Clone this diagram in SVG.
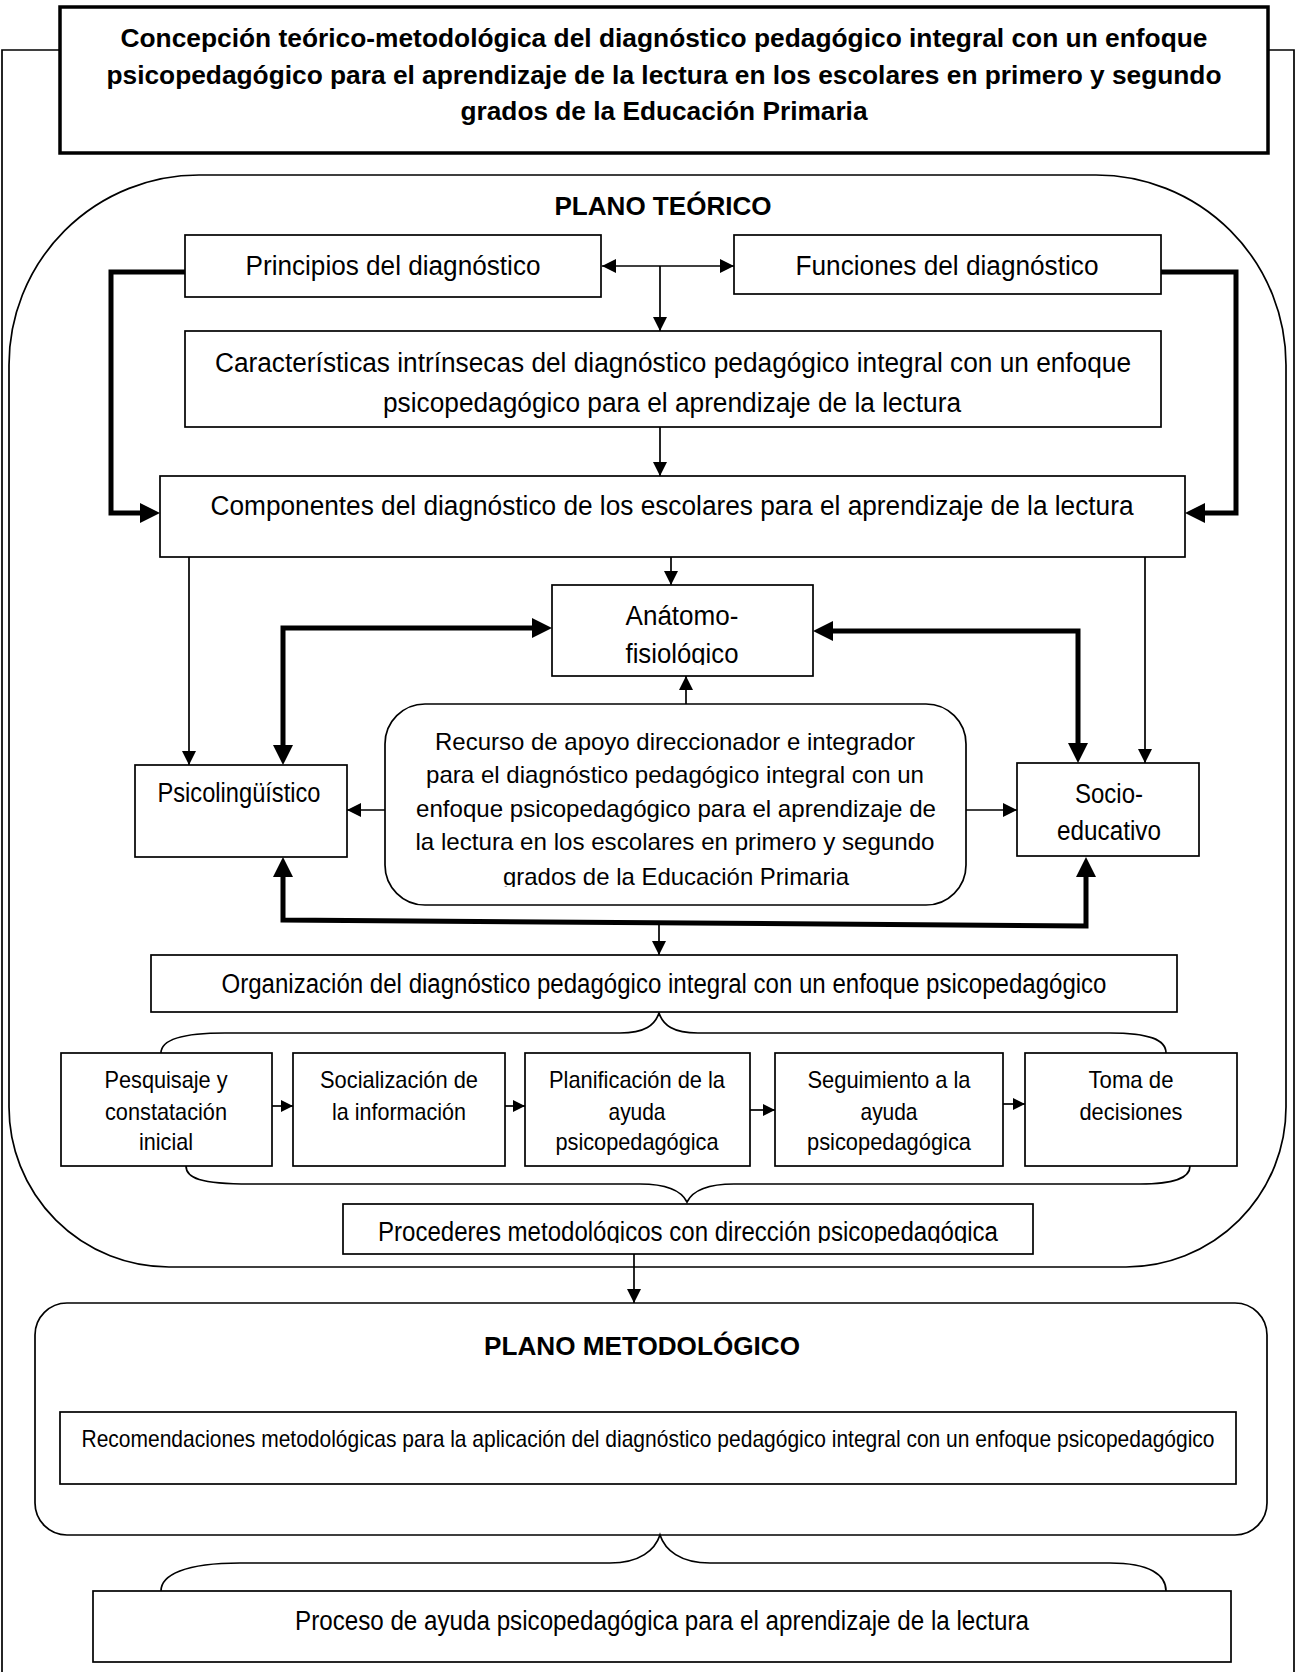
<svg xmlns="http://www.w3.org/2000/svg" width="1299" height="1672" viewBox="0 0 1299 1672">
<style>
text{font-family:"Liberation Sans Narrow","Arial Narrow","Liberation Sans",Arial,sans-serif;fill:#000;text-anchor:middle}
.t{font-size:27px}
.s{font-size:24px}
.b{font-size:26px;font-weight:bold}
.box{fill:#fff;stroke:#000;stroke-width:1.7}
.thin{fill:none;stroke:#000;stroke-width:1.7}
.thick{fill:none;stroke:#000;stroke-width:5}
.brace{fill:none;stroke:#000;stroke-width:1.7}
</style>
<defs>
<marker id="a" markerUnits="userSpaceOnUse" viewBox="0 0 14 14" markerWidth="14" markerHeight="14" refX="14" refY="7" orient="auto-start-reverse"><path d="M0,0 L14,7 L0,14 z" fill="#000"/></marker>
<marker id="as" markerUnits="userSpaceOnUse" viewBox="0 0 12 12" markerWidth="12" markerHeight="12" refX="12" refY="6" orient="auto-start-reverse"><path d="M0,0 L12,6 L0,12 z" fill="#000"/></marker>
<marker id="ab" markerUnits="userSpaceOnUse" viewBox="0 0 20 20" markerWidth="20" markerHeight="20" refX="12" refY="10" orient="auto-start-reverse"><path d="M0,0 L20,10 L0,20 z" fill="#000"/></marker>
<clipPath id="clipAnat"><rect x="552" y="585" width="261" height="80"/></clipPath>
<clipPath id="clipRec"><rect x="385" y="704" width="581" height="183"/></clipPath>
<clipPath id="clipProc"><rect x="343" y="1204" width="690" height="39"/></clipPath>
</defs>
<rect width="1299" height="1672" fill="#fff"/>

<g id="frame">
<path class="thin" d="M2,1672 V50 H60 M1268,50 H1294 V1672"/>
</g>

<g id="plano-teorico">
<path class="thin" d="M199,175 H1096 A190,190 0 0 1 1286,365 V1107 A160,160 0 0 1 1126,1267 H169 A160,160 0 0 1 9,1107 V365 A190,190 0 0 1 199,175 Z"/>
<text class="b" x="663" y="215" textLength="217" lengthAdjust="spacingAndGlyphs">PLANO TEÓRICO</text>
</g>

<g id="plano-metodologico">
<rect class="thin" x="35" y="1303" width="1232" height="232" rx="32" ry="32"/>
<text class="b" x="642" y="1355" textLength="316" lengthAdjust="spacingAndGlyphs">PLANO METODOLÓGICO</text>
</g>

<g id="title">
<rect x="60" y="7" width="1208" height="146" fill="#fff" stroke="#000" stroke-width="3.5"/>
<text class="b" x="664" y="47" textLength="1087" lengthAdjust="spacingAndGlyphs">Concepción teórico-metodológica del diagnóstico pedagógico integral con un enfoque</text>
<text class="b" x="664" y="84" textLength="1115" lengthAdjust="spacingAndGlyphs">psicopedagógico para el aprendizaje de la lectura en los escolares en primero y segundo</text>
<text class="b" x="664" y="120" textLength="407" lengthAdjust="spacingAndGlyphs">grados de la Educación Primaria</text>
</g>

<g id="connectors">
<path class="thick" d="M185,272 H111 V513 H152" marker-end="url(#ab)"/>
<path class="thick" d="M1161,272 H1236 V513 H1193" marker-end="url(#ab)"/>
<path class="thin" d="M602,266 H734" marker-start="url(#a)" marker-end="url(#a)"/>
<path class="thin" d="M660,266 V331" marker-end="url(#a)"/>
<path class="thin" d="M660,427 V476" marker-end="url(#a)"/>
<path class="thin" d="M671,557 V585" marker-end="url(#a)"/>
<path class="thin" d="M189,557 V765" marker-end="url(#a)"/>
<path class="thin" d="M1145,557 V763" marker-end="url(#a)"/>
<path class="thick" d="M283,757 V628 H544" marker-start="url(#ab)" marker-end="url(#ab)"/>
<path class="thick" d="M821,631 H1078 V755" marker-start="url(#ab)" marker-end="url(#ab)"/>
<path class="thin" d="M686,704 V676" marker-end="url(#a)"/>
<path class="thin" d="M385,810 H347" marker-end="url(#a)"/>
<path class="thin" d="M966,810 H1017" marker-end="url(#a)"/>
<path class="thick" d="M283,865 V920 L1086,926 V865" marker-start="url(#ab)" marker-end="url(#ab)"/>
<path class="thin" d="M659,923 V955" marker-end="url(#a)"/>
<path class="thin" d="M272,1106 H293" marker-end="url(#as)"/>
<path class="thin" d="M505,1106 H525" marker-end="url(#as)"/>
<path class="thin" d="M750,1110 H775" marker-end="url(#as)"/>
<path class="thin" d="M1003,1104 H1025" marker-end="url(#as)"/>
<path class="thin" d="M634,1254 V1303" marker-end="url(#a)"/>
<path class="brace" d="M161,1053 C161,1040 180,1033 225,1033 H620 C645,1033 655,1025 659,1013 C663,1025 673,1033 698,1033 H1110 C1150,1033 1166,1040 1166,1053"/>
<path class="brace" d="M186,1166 C186,1178 200,1184 250,1184 H640 C670,1184 682,1192 687,1202 C692,1192 704,1184 734,1184 H1140 C1175,1184 1190,1178 1190,1166"/>
<path class="brace" d="M161,1591 C161,1575 185,1563 240,1563 H610 C640,1563 655,1550 660,1535 C665,1550 680,1563 710,1563 H1110 C1150,1563 1166,1575 1166,1591"/>
</g>

<g id="principios">
<rect class="box" x="185" y="235" width="416" height="62"/>
<text class="t" x="393" y="275" textLength="295" lengthAdjust="spacingAndGlyphs">Principios del diagnóstico</text>
</g>
<g id="funciones">
<rect class="box" x="734" y="235" width="427" height="59"/>
<text class="t" x="947" y="275" textLength="303" lengthAdjust="spacingAndGlyphs">Funciones del diagnóstico</text>
</g>
<g id="caracteristicas">
<rect class="box" x="185" y="331" width="976" height="96"/>
<text class="t" x="673" y="372" textLength="916" lengthAdjust="spacingAndGlyphs">Características intrínsecas del diagnóstico pedagógico integral con un enfoque</text>
<text class="t" x="672" y="412" textLength="578" lengthAdjust="spacingAndGlyphs">psicopedagógico para el aprendizaje de la lectura</text>
</g>
<g id="componentes">
<rect class="box" x="160" y="476" width="1025" height="81"/>
<text class="t" x="672" y="515" textLength="923" lengthAdjust="spacingAndGlyphs">Componentes del diagnóstico de los escolares para el aprendizaje de la lectura</text>
</g>
<g id="anatomo">
<rect class="box" x="552" y="585" width="261" height="91"/>
<g clip-path="url(#clipAnat)">
<text class="t" x="682" y="625" textLength="113" lengthAdjust="spacingAndGlyphs">Anátomo-</text>
<text class="t" x="682" y="663" textLength="113" lengthAdjust="spacingAndGlyphs">fisiológico</text>
</g>
</g>
<g id="psicolinguistico">
<rect class="box" x="135" y="765" width="212" height="92"/>
<text class="t" x="239" y="802" textLength="163" lengthAdjust="spacingAndGlyphs">Psicolingüístico</text>
</g>
<g id="recurso">
<rect class="box" x="385" y="704" width="581" height="201" rx="40" ry="40"/>
<g clip-path="url(#clipRec)">
<text class="s" x="675" y="750" textLength="480" lengthAdjust="spacingAndGlyphs">Recurso de apoyo direccionador e integrador</text>
<text class="s" x="675" y="783" textLength="498" lengthAdjust="spacingAndGlyphs">para el diagnóstico pedagógico integral con un</text>
<text class="s" x="676" y="817" textLength="520" lengthAdjust="spacingAndGlyphs">enfoque psicopedagógico para el aprendizaje de</text>
<text class="s" x="675" y="850" textLength="519" lengthAdjust="spacingAndGlyphs">la lectura en los escolares en primero y segundo</text>
<text class="s" x="676" y="885" textLength="346" lengthAdjust="spacingAndGlyphs">grados de la Educación Primaria</text>
</g>
</g>
<g id="socioeducativo">
<rect class="box" x="1017" y="763" width="182" height="93"/>
<text class="t" x="1109" y="803" textLength="68" lengthAdjust="spacingAndGlyphs">Socio-</text>
<text class="t" x="1109" y="840" textLength="104" lengthAdjust="spacingAndGlyphs">educativo</text>
</g>
<g id="organizacion">
<rect class="box" x="151" y="955" width="1026" height="57"/>
<text class="t" x="664" y="993" textLength="885" lengthAdjust="spacingAndGlyphs">Organización del diagnóstico pedagógico integral con un enfoque psicopedagógico</text>
</g>
<g id="pesquisaje">
<rect class="box" x="61" y="1053" width="211" height="113"/>
<text class="s" x="166" y="1088" textLength="123" lengthAdjust="spacingAndGlyphs">Pesquisaje y</text>
<text class="s" x="166" y="1120" textLength="122" lengthAdjust="spacingAndGlyphs">constatación</text>
<text class="s" x="166" y="1150" textLength="54" lengthAdjust="spacingAndGlyphs">inicial</text>
</g>
<g id="socializacion">
<rect class="box" x="293" y="1053" width="212" height="113"/>
<text class="s" x="399" y="1088" textLength="158" lengthAdjust="spacingAndGlyphs">Socialización de</text>
<text class="s" x="399" y="1120" textLength="134" lengthAdjust="spacingAndGlyphs">la información</text>
</g>
<g id="planificacion">
<rect class="box" x="525" y="1053" width="225" height="113"/>
<text class="s" x="637" y="1088" textLength="176" lengthAdjust="spacingAndGlyphs">Planificación de la</text>
<text class="s" x="637" y="1120" textLength="57" lengthAdjust="spacingAndGlyphs">ayuda</text>
<text class="s" x="637" y="1150" textLength="163" lengthAdjust="spacingAndGlyphs">psicopedagógica</text>
</g>
<g id="seguimiento">
<rect class="box" x="775" y="1053" width="228" height="113"/>
<text class="s" x="889" y="1088" textLength="163" lengthAdjust="spacingAndGlyphs">Seguimiento a la</text>
<text class="s" x="889" y="1120" textLength="57" lengthAdjust="spacingAndGlyphs">ayuda</text>
<text class="s" x="889" y="1150" textLength="164" lengthAdjust="spacingAndGlyphs">psicopedagógica</text>
</g>
<g id="toma">
<rect class="box" x="1025" y="1053" width="212" height="113"/>
<text class="s" x="1131" y="1088" textLength="85" lengthAdjust="spacingAndGlyphs">Toma de</text>
<text class="s" x="1131" y="1120" textLength="103" lengthAdjust="spacingAndGlyphs">decisiones</text>
</g>
<g id="procederes">
<rect class="box" x="343" y="1204" width="690" height="50"/>
<g clip-path="url(#clipProc)">
<text class="t" x="688" y="1241" textLength="620" lengthAdjust="spacingAndGlyphs">Procederes metodológicos con dirección psicopedagógica</text>
</g>
</g>
<g id="recomendaciones">
<rect class="box" x="60" y="1412" width="1176" height="72"/>
<text class="s" x="648" y="1447" textLength="1133" lengthAdjust="spacingAndGlyphs">Recomendaciones metodológicas para la aplicación del diagnóstico pedagógico integral con un enfoque psicopedagógico</text>
</g>
<g id="proceso">
<rect class="box" x="93" y="1591" width="1138" height="71"/>
<text class="t" x="662" y="1630" textLength="734" lengthAdjust="spacingAndGlyphs">Proceso de ayuda psicopedagógica para el aprendizaje de la lectura</text>
</g>
</svg>
